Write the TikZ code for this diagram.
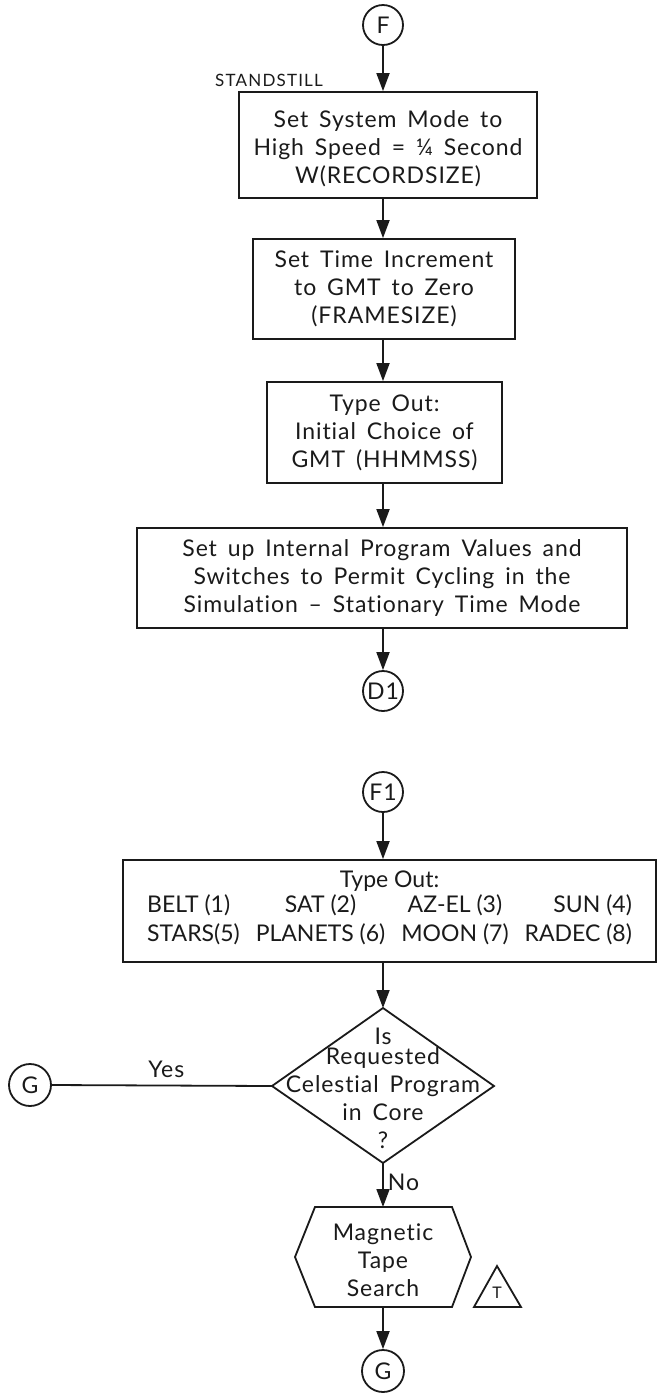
\documentclass[tikz,border=0pt]{standalone}
\usepackage{fontspec}
\setmainfont{Lato}[LetterSpace=4,WordSpace=1.6,Ligatures=NoCommon]
\newfontfamily\plainf{Lato}[Ligatures=NoCommon]
\usetikzlibrary{arrows.meta}
\definecolor{ink}{HTML}{1A1A1A}
\begin{document}
\begin{tikzpicture}[x=0.5pt,y=-0.5pt,
  every node/.style={font=\fontsize{11.5}{14}\selectfont, text=ink},
  box/.style={draw=ink, line width=0.9pt, align=center, inner sep=0pt},
  conn/.style={draw=ink, line width=0.9pt, circle, inner sep=0pt, minimum size=20pt},
  flow/.style={draw=ink, line width=0.9pt, -{Triangle[length=9pt,width=6.5pt]}},
  plain/.style={draw=ink, line width=0.9pt}]
\useasboundingbox (0,0) rectangle (659,1393);

% upper chart
\node[conn] (F) at (383,25) {F};
\node[font=\fontsize{8.5}{10}\selectfont\addfontfeatures{LetterSpace=7}] (stand) at (269,80) {STANDSTILL};
\node[box, minimum width=149pt, minimum height=53pt] (b1) at (388,145)
  {\rule{0pt}{12pt}Set System Mode to\\High Speed = ¼ Second\\W(RECORDSIZE)};
\node[box, minimum width=131pt, minimum height=50pt] (b2) at (384,289)
  {Set Time Increment\\to GMT to Zero\\(FRAMESIZE)};
\node[box, minimum width=117.5pt, minimum height=50.5pt] (b3) at (384.5,432.5)
  {Type Out:\\Initial Choice of\\GMT (HHMMSS)};
\node[box, minimum width=245pt, minimum height=50pt] (b4) at (382,578)
  {Set up Internal Program Values and\\Switches to Permit Cycling in the\\Simulation -- Stationary Time Mode};
\node[conn] (D1) at (383,691) {D1};

\draw[flow] (F.south) -- (F.south |- b1.north);
\draw[flow] (F |- b1.south) -- (F |- b2.north);
\draw[flow] (F |- b2.south) -- (F |- b3.north);
\draw[flow] (F |- b3.south) -- (F |- b4.north);
\draw[flow] (F |- b4.south) -- (D1.north);

% lower chart
\node[conn] (F1) at (383,792) {F1};
\node[box, minimum width=266.5pt, minimum height=51pt, font=\plainf\fontsize{11.5}{14}\selectfont] (b5) at (389.5,911)
  {Type Out:\\[-1pt]
   \renewcommand\arraystretch{1.05}%
   \begin{tabular}{@{}l@{\hspace{8pt}}c@{\hspace{8pt}}c@{\hspace{8pt}}r@{}}
   BELT (1) & SAT (2) & AZ-EL (3) & SUN (4)\\
   STARS(5) & PLANETS (6) & MOON (7) & RADEC (8)
   \end{tabular}};

\coordinate (dN) at (383,1008);
\coordinate (dE) at (494,1086);
\coordinate (dS) at (383,1163);
\coordinate (dW) at (272,1086);
\draw[plain] (dN) -- (dE) -- (dS) -- (dW) -- cycle;
\node[align=center, inner sep=0pt] (dq) at (383,1088)
  {Is\\[-4pt]Requested\\Celestial Program\\in Core\\?};

\coordinate (hTL) at (315,1207);
\coordinate (hN) at (383,1207);
\coordinate (hTR) at (452,1207);
\coordinate (hE) at (471,1257);
\coordinate (hBR) at (452,1307);
\coordinate (hS) at (383,1307);
\coordinate (hBL) at (315,1307);
\coordinate (hW) at (295,1257);
\draw[plain] (hTL) -- (hTR) -- (hE) -- (hBR) -- (hBL) -- (hW) -- cycle;
\node[align=center, inner sep=0pt] (hq) at (383,1260) {Magnetic\\Tape\\Search};

\node[conn, minimum size=21pt] (GL) at (30,1085) {G};
\node[conn, minimum size=21pt] (GB) at (383,1371) {G};

\coordinate (tA) at (474,1307);
\coordinate (tB) at (521,1307);
\coordinate (tC) at (497,1266);
\draw[plain] (tA) -- (tB) -- (tC) -- cycle;
\node[font=\fontsize{8}{9}\selectfont, inner sep=0pt] (tT) at (497,1293) {T};

\draw[flow] (F1.south) -- (F1.south |- b5.north);
\draw[flow] (F1 |- b5.south) -- (dN);
\draw[plain] (GL.east) -- node[above, pos=0.52] (yes) {Yes} (dW);
\draw[flow] (dS) -- node[right, pos=0.45, inner sep=2pt] (no) {No} (hN);
\draw[flow] (hS) -- (GB.north);
\end{tikzpicture}
\end{document}
